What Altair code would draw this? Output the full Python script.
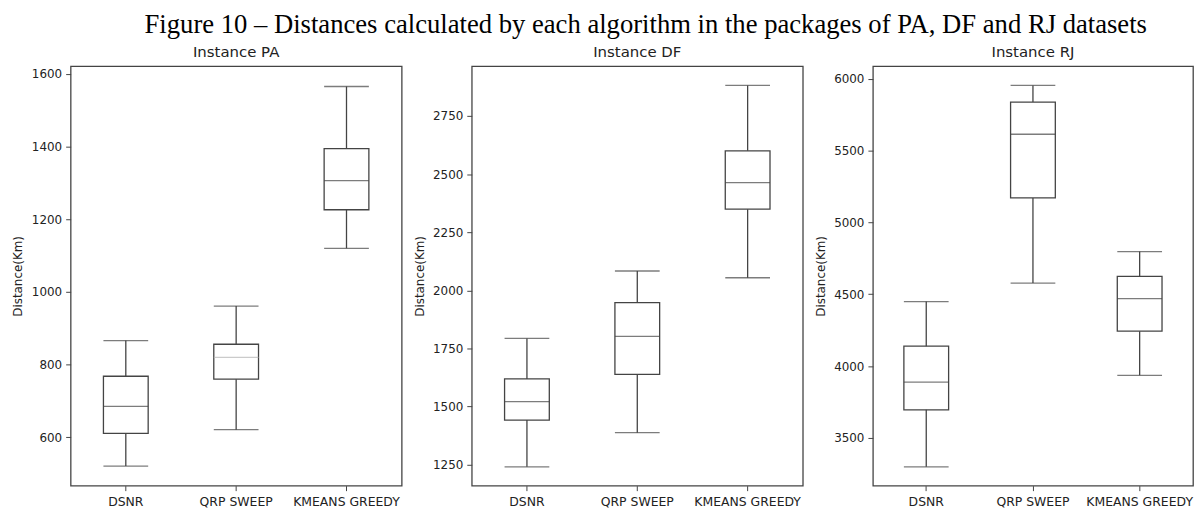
import altair as alt
import pandas as pd

algorithms = ["DSNR", "QRP SWEEP", "KMEANS GREEDY"]

# PA instance (lower whisker, Q1, median, Q3, upper whisker)
pa_lower = [521, 621, 1120]
pa_q1 = [611, 760, 1226]
pa_median = [685, 820, 1306]
pa_q3 = [768, 856, 1394]
pa_upper = [866, 961, 1565]

# DF instance
df_lower = [1241, 1388, 2054]
df_q1 = [1442, 1639, 2349]
df_median = [1521, 1802, 2463]
df_q3 = [1619, 1947, 2600]
df_upper = [1793, 2083, 2881]

# RJ instance
rj_lower = [3299, 4578, 3936]
rj_q1 = [3696, 5171, 4243]
rj_median = [3888, 5614, 4470]
rj_q3 = [4139, 5838, 4624]
rj_upper = [4449, 5954, 4797]

pa_ticks = [600, 800, 1000, 1200, 1400, 1600]
df_ticks = [1250, 1500, 1750, 2000, 2250, 2500, 2750]
rj_ticks = [3500, 4000, 4500, 5000, 5500, 6000]

pa_domain = [467, 1621]
df_domain = [1160, 2964]
rj_domain = [3168, 6088]

LINE = "#444444"
H = 422
BOX = 45


def panel(name, lower, q1, median, q3, upper, ticks, domain, width, light_median=None):
    data = pd.DataFrame({
        "algorithm": algorithms,
        "lower": lower, "q1": q1, "median": median, "q3": q3, "upper": upper,
    })
    base = alt.Chart(data).encode(
        x=alt.X("algorithm:N", sort=algorithms, title=None,
                scale=alt.Scale(paddingInner=0, paddingOuter=0),
                axis=alt.Axis(labelAngle=0, labelFontSize=12.5, labelPadding=5,
                              tickSize=5, tickColor=LINE, domain=False,
                              labelColor="#222", labelFont="DejaVu Sans")),
    )
    yscale = alt.Scale(domain=domain, nice=False, zero=False)
    yaxis = alt.Axis(values=ticks, format="d", grid=False, domain=False, tickSize=5,
                     tickColor=LINE, labelFontSize=12, labelPadding=4, labelColor="#222",
                     labelFont="DejaVu Sans", title="Distance(Km)",
                     titleFontSize=12, titleFontWeight="normal", titleColor="#222",
                     titleFont="DejaVu Sans", titlePadding=5,
                     minExtent=41, maxExtent=41)
    whisker = base.mark_rule(color=LINE, strokeWidth=1.3).encode(
        y=alt.Y("lower:Q", scale=yscale, axis=yaxis), y2="upper:Q")
    box = base.mark_bar(size=BOX, fill="white", stroke=LINE, strokeWidth=1.3).encode(
        y=alt.Y("q1:Q"), y2="q3:Q")
    if light_median:
        mcolor = alt.condition(alt.datum.algorithm == light_median,
                               alt.value("#b5b5b5"), alt.value(LINE))
    else:
        mcolor = alt.value(LINE)
    med = base.mark_tick(size=BOX, thickness=1.3).encode(y="median:Q", color=mcolor)
    cap_lo = base.mark_tick(size=BOX, thickness=1.3, color=LINE).encode(y="lower:Q")
    cap_hi = base.mark_tick(size=BOX, thickness=1.3, color=LINE).encode(y="upper:Q")
    return alt.layer(whisker, box, med, cap_lo, cap_hi).properties(
        width=width, height=H,
        title=alt.TitleParams(f"Instance {name}", fontSize=15, font="DejaVu Sans",
                              fontWeight="normal", color="#222", offset=6,
                              anchor="middle"),
    )


chart = alt.hconcat(
    panel("PA", pa_lower, pa_q1, pa_median, pa_q3, pa_upper, pa_ticks, pa_domain, 333,
          light_median="QRP SWEEP"),
    panel("DF", df_lower, df_q1, df_median, df_q3, df_upper, df_ticks, df_domain, 333),
    panel("RJ", rj_lower, rj_q1, rj_median, rj_q3, rj_upper, rj_ticks, rj_domain, 322),
    spacing=9.5,
).properties(
    title=alt.TitleParams(
        "Figure 10 – Distances calculated by each algorithm in the packages of PA, DF and RJ datasets",
        font="Liberation Serif", fontSize=26.8, fontWeight="normal", color="#000",
        anchor="middle", dx=43.5, offset=6),
    padding={"left": 3, "top": 2, "right": 0, "bottom": 0},
    background="white",
).configure_view(stroke=LINE, strokeWidth=1.3)

chart.save("out.html", embed_options={"renderer": "svg", "actions": False})
